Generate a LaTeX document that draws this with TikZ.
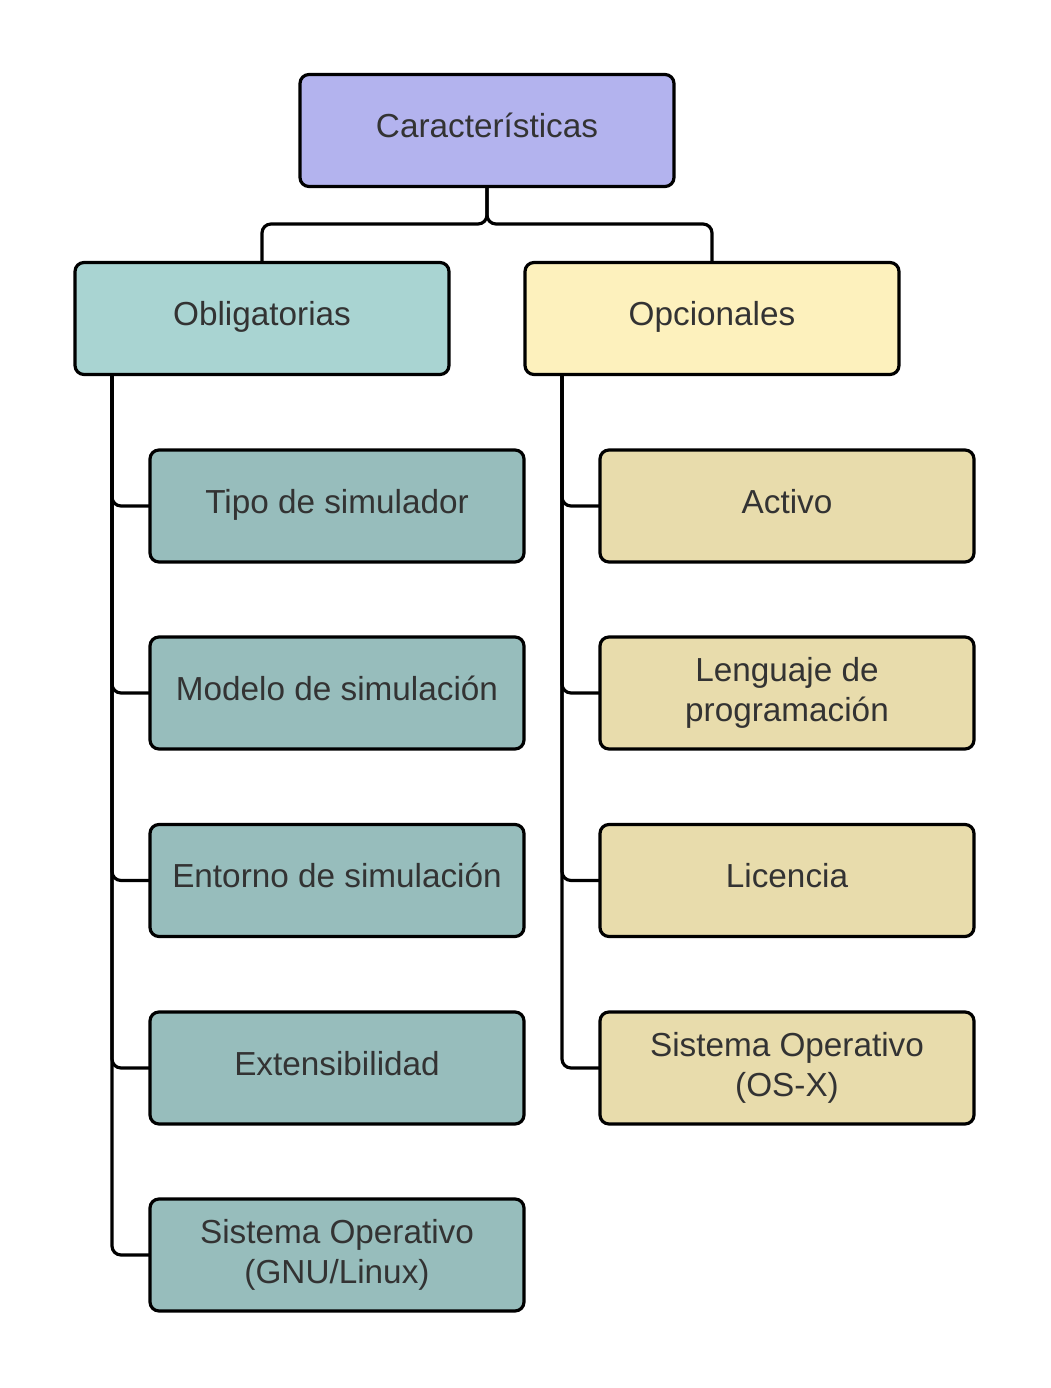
\documentclass[tikz,border=0pt]{standalone}
\usepackage{fontspec}
\setmainfont{Liberation Sans}
\definecolor{topc}{HTML}{B3B3EE}
\definecolor{oblc}{HTML}{A9D4D2}
\definecolor{oblk}{HTML}{97BDBC}
\definecolor{opcc}{HTML}{FDF1BD}
\definecolor{opck}{HTML}{E8DCAC}
\definecolor{txt}{HTML}{333333}
\begin{document}
\begin{tikzpicture}[x=1pt,y=-1pt,
  box/.style={draw=black,line width=3.2pt,rounded corners=9pt,minimum width=374pt,minimum height=112pt,
    inner sep=0pt,outer sep=0pt,align=center,text=txt,font=\fontsize{33.3}{40}\selectfont},
  one/.style={text height=25pt,text depth=10.5pt},
  conn/.style={draw=black,line width=3.2pt,rounded corners=9pt}]
\useasboundingbox (0,0) rectangle (1050,1388);
\node[box,one,fill=topc] (car) at (487,130.5) {Características};
\node[box,one,fill=oblc] (obl) at (262,318.5) {Obligatorias};
\node[box,one,fill=opcc] (opc) at (712,318.5) {Opcionales};
\node[box,one,fill=oblk] (l1) at (337,506) {Tipo de simulador};
\node[box,one,fill=oblk] (l2) at (337,693) {Modelo de simulación};
\node[box,one,fill=oblk] (l3) at (337,880.5) {Entorno de simulación};
\node[box,one,fill=oblk] (l4) at (337,1068) {Extensibilidad};
\node[box,fill=oblk] (l5) at (337,1255) {Sistema Operativo\\(GNU/Linux)};
\node[box,one,fill=opck] (r1) at (787,506) {Activo};
\node[box,fill=opck] (r2) at (787,693) {Lenguaje de\\programación};
\node[box,one,fill=opck] (r3) at (787,880.5) {Licencia};
\node[box,fill=opck] (r4) at (787,1068) {Sistema Operativo\\(OS-X)};
\coordinate (jL) at (262,224);
\coordinate (jR) at (712,224);
\coordinate (spL) at (112,0);
\coordinate (spR) at (562,0);
\draw[conn] (car.south) |- (jL) -- (obl.north);
\draw[conn] (car.south) |- (jR) -- (opc.north);
\foreach \n in {l1,l2,l3,l4,l5}{\draw[conn] (obl.south -| spL) |- (\n.west);}
\foreach \n in {r1,r2,r3,r4}{\draw[conn] (opc.south -| spR) |- (\n.west);}
\end{tikzpicture}
\end{document}
